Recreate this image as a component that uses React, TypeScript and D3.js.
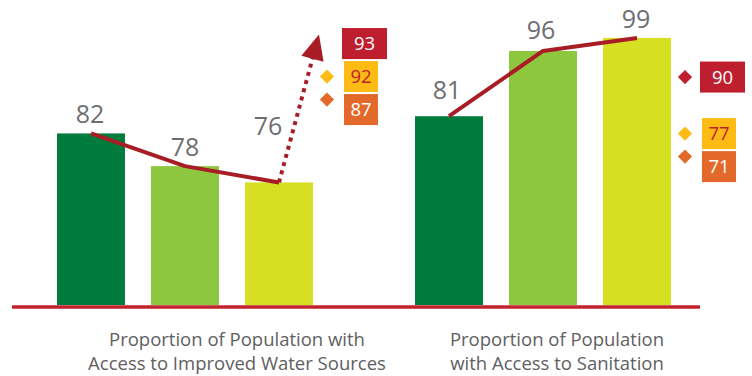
import React from "react";
import * as d3 from "d3";

// ---------- data ----------
const groupLabels: string[][] = [
  ["Proportion of Population with", "Access to Improved Water Sources"],
  ["Proportion of Population", "with Access to Sanitation"],
];
const seriesKeys = ["first", "second", "third"];
const barValues: number[][] = [
  [82, 78, 76],
  [81, 96, 99],
];
const refKeys = ["red", "gold", "orange"];
const refValues: number[][] = [
  [93, 92, 87],
  [90, 77, 71],
];
// per-group value domains (the infographic uses a different scale per group)
const groupDomains: [number, number][] = [
  [61, 95],
  [37.6, 100],
];

// ---------- style / layout ----------
const W = 752;
const H = 376;
const baseY = 305;
const groupPxPerUnit = [8.17, 4.35];
const barColors = ["#007b3e", "#8dc63f", "#d6df22"];
const refFill: Record<string, string> = { red: "#be1e2d", gold: "#fdbb14", orange: "#e2692a" };
const refText: Record<string, string> = { red: "#ffffff", gold: "#be1e2d", orange: "#ffffff" };
const refDiamondDy: Record<string, number> = { red: 0, gold: 0, orange: -10 };
const lineColor = "#a81d25";
const axisColor = "#c0232b";
const labelGray = "#6d6e71";
const catGray = "#5f6062";
const FONT = "'Open Sans', 'Noto Sans', sans-serif";
// label nudges [dx, dy] relative to bar top
const labelNudge: number[][][] = [
  [[-1, -10], [0, -10], [-11, -47]],
  [[-2, -17], [-2, -12], [-1, -10]],
];

export default function App() {
  const outer = d3
    .scaleBand<number>()
    .domain(d3.range(barValues.length))
    .range([57, 671])
    .paddingInner(0.285)
    .paddingOuter(0);
  const inner = d3
    .scaleBand<string>()
    .domain(seriesKeys)
    .range([0, outer.bandwidth()])
    .paddingInner(0.277)
    .paddingOuter(0);

  const yScales = groupDomains.map((dom, gi) =>
    d3
      .scaleLinear()
      .domain(dom)
      .range([baseY, baseY - (dom[1] - dom[0]) * groupPxPerUnit[gi]])
  );

  const line = d3
    .line<[number, number]>()
    .x((d) => d[0])
    .y((d) => d[1])
    .curve(d3.curveLinear);

  const boxH = 31;
  const boxGap = 2;

  const axisX0 = (outer(0) as number) - 45;
  const axisX1 = (outer(1) as number) + outer.bandwidth() + 29;

  return (
    <svg
      width={W}
      height={H}
      style={{ position: "absolute", left: 0, top: 0, background: "#fff" }}
      fontFamily={FONT}
    >
      {barValues.map((vals, gi) => {
        const gx = outer(gi) as number;
        const y = yScales[gi];
        const pts: [number, number][] = vals.map((v, i) => [
          gx + (inner(seriesKeys[i]) as number) + inner.bandwidth() / 2,
          y(v),
        ]);
        // reference boxes with collision stacking
        const anchorX = gx + outer.bandwidth() + 31;
        let prevBottom = -Infinity;
        const boxes = refValues[gi].map((v, i) => {
          let top = y(v) - boxH / 2;
          if (top < prevBottom + boxGap) top = prevBottom + boxGap;
          prevBottom = top + boxH;
          const key = refKeys[i];
          const wide = key === "red";
          return {
            v,
            key,
            x: wide ? anchorX - 2 : anchorX,
            w: wide ? 45 : 34,
            top,
          };
        });
        const last = pts[pts.length - 1];
        const redBox = boxes[0];
        const tip: [number, number] = [redBox.x - 23, y(refValues[gi][0]) - 9];
        const dx = tip[0] - last[0];
        const dy = tip[1] - last[1];
        const len = Math.hypot(dx, dy);
        const ux = dx / len;
        const uy = dy / len;
        const headLen = 25;
        const headHalf = 11.5;
        const bx = tip[0] - ux * headLen;
        const by = tip[1] - uy * headLen;
        const c1: [number, number] = [bx + uy * headHalf, by - ux * headHalf];
        const c2: [number, number] = [bx - uy * headHalf, by + ux * headHalf];
        return (
          <g key={gi}>
            {vals.map((v, i) => (
              <rect
                key={i}
                x={gx + (inner(seriesKeys[i]) as number)}
                y={y(v)}
                width={inner.bandwidth()}
                height={baseY - y(v)}
                fill={barColors[i]}
              />
            ))}
            {vals.map((v, i) => (
              <text
                key={"l" + i}
                x={pts[i][0] + labelNudge[gi][i][0]}
                y={y(v) + labelNudge[gi][i][1]}
                textAnchor="middle"
                fontSize={25}
                fill={labelGray}
              >
                {v}
              </text>
            ))}
            <path
              d={line(pts) || ""}
              fill="none"
              stroke={lineColor}
              strokeWidth={4}
              strokeLinejoin="round"
            />
            {gi === 0 && (
              <g>
                <path
                  d={line([last, [bx + ux * 2, by + uy * 2]]) || ""}
                  fill="none"
                  stroke={lineColor}
                  strokeWidth={4}
                  strokeDasharray="4 4.5"
                />
                <path
                  d={`M${tip[0]},${tip[1]}L${c1[0]},${c1[1]}L${c2[0]},${c2[1]}Z`}
                  fill={lineColor}
                />
              </g>
            )}
            {boxes.map((b, i) => (
              <g key={"b" + i}>
                {!(gi === 0 && b.key === "red") && (
                  <rect
                    x={-5}
                    y={-5}
                    width={10}
                    height={10}
                    fill={refFill[b.key]}
                    transform={`translate(${anchorX - 17},${b.top + boxH / 2 + refDiamondDy[b.key]}) rotate(45)`}
                  />
                )}
                <rect x={b.x} y={b.top} width={b.w} height={boxH} fill={refFill[b.key]} />
                <text
                  x={b.x + b.w / 2}
                  y={b.top + boxH / 2 + 6.5}
                  textAnchor="middle"
                  fontSize={18.5}
                  fill={refText[b.key]}
                >
                  {b.v}
                </text>
              </g>
            ))}
          </g>
        );
      })}
      <line x1={axisX0} x2={axisX1} y1={307} y2={307} stroke={axisColor} strokeWidth={3.5} />
      {groupLabels.map((lines, gi) => {
        const cx = (outer(gi) as number) + outer.bandwidth() / 2 + (gi === 0 ? 52 : 14);
        return (
          <text key={gi} textAnchor="middle" fontSize={18.5} fill={catGray}>
            {lines.map((ln, li) => (
              <tspan key={li} x={cx} y={346 + li * 24}>
                {ln}
              </tspan>
            ))}
          </text>
        );
      })}
    </svg>
  );
}
